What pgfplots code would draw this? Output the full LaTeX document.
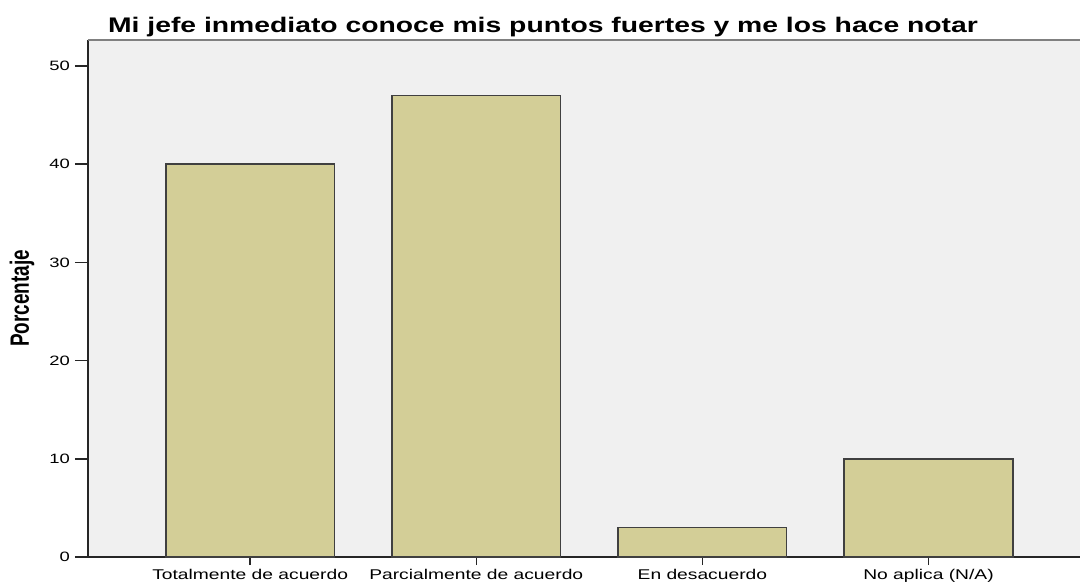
\documentclass[border=0pt]{standalone}
\usepackage{pgfplots}
\pgfplotsset{compat=1.18}
\usepackage{fontspec}
\setmainfont{Liberation Sans}
\definecolor{barfill}{RGB}{211,206,151}
\definecolor{plotbg}{RGB}{240,240,240}
% the reference is stretched sideways, so text is widened to match
\newcommand{\wide}[1]{\scalebox{1.36}[1]{#1}}

\begin{document}
\begin{tikzpicture}
\useasboundingbox (-44bp,-12.5bp) rectangle (496bp,278.5bp);
\begin{axis}[
    scale only axis,
    width=496bp, height=258.5bp,
    ymin=0, ymax=52.65,
    xmin=-0.717, xmax=3.67,
    ybar, bar width=0.745, bar shift=0pt,
    axis background/.style={fill=plotbg},
    axis x line*=bottom, axis y line*=left,
    axis line style={line width=0.75bp, black!85, -},
    tick align=outside,
    tick style={line width=0.75bp, black!85},
    major tick length=6.5bp,
    xtick style={/pgfplots/major tick length=4bp},
    xtick=data,
    xticklabels={{\wide{Totalmente de acuerdo}},{\wide{Parcialmente de acuerdo}},{\wide{En desacuerdo}},{\wide{No aplica (N/A)}}},
    xticklabel style={font=\fontsize{7.1}{8}\selectfont, yshift=4bp},
    ytick={0,10,...,50},
    /pgf/number format/assume math mode=true,
    yticklabel={\wide{\pgfmathprintnumber{\tick}}},
    yticklabel style={font=\fontsize{6.8}{8}\selectfont, xshift=1bp},
    ylabel={\scalebox{1}[1.4]{Porcentaje}},
    ylabel style={font=\fontsize{9.5}{11}\bfseries, at={(rel axis cs:-0.0665,0.5)}, anchor=center},
    title={\scalebox{1.34}[1]{Mi jefe inmediato conoce mis puntos fuertes y me los hace notar}},
    title style={font=\fontsize{10.6}{12}\bfseries, at={(rel axis cs:0.4587,1)}, anchor=base, yshift=-2bp},
]
\addplot[fill=barfill, draw=black!75, line width=0.8bp]
  coordinates {(0,40) (1,47) (2,3) (3,10)};
\draw[black!50, line width=0.75bp] (rel axis cs:0,1) -- (rel axis cs:1,1);
\end{axis}
\end{tikzpicture}
\end{document}
